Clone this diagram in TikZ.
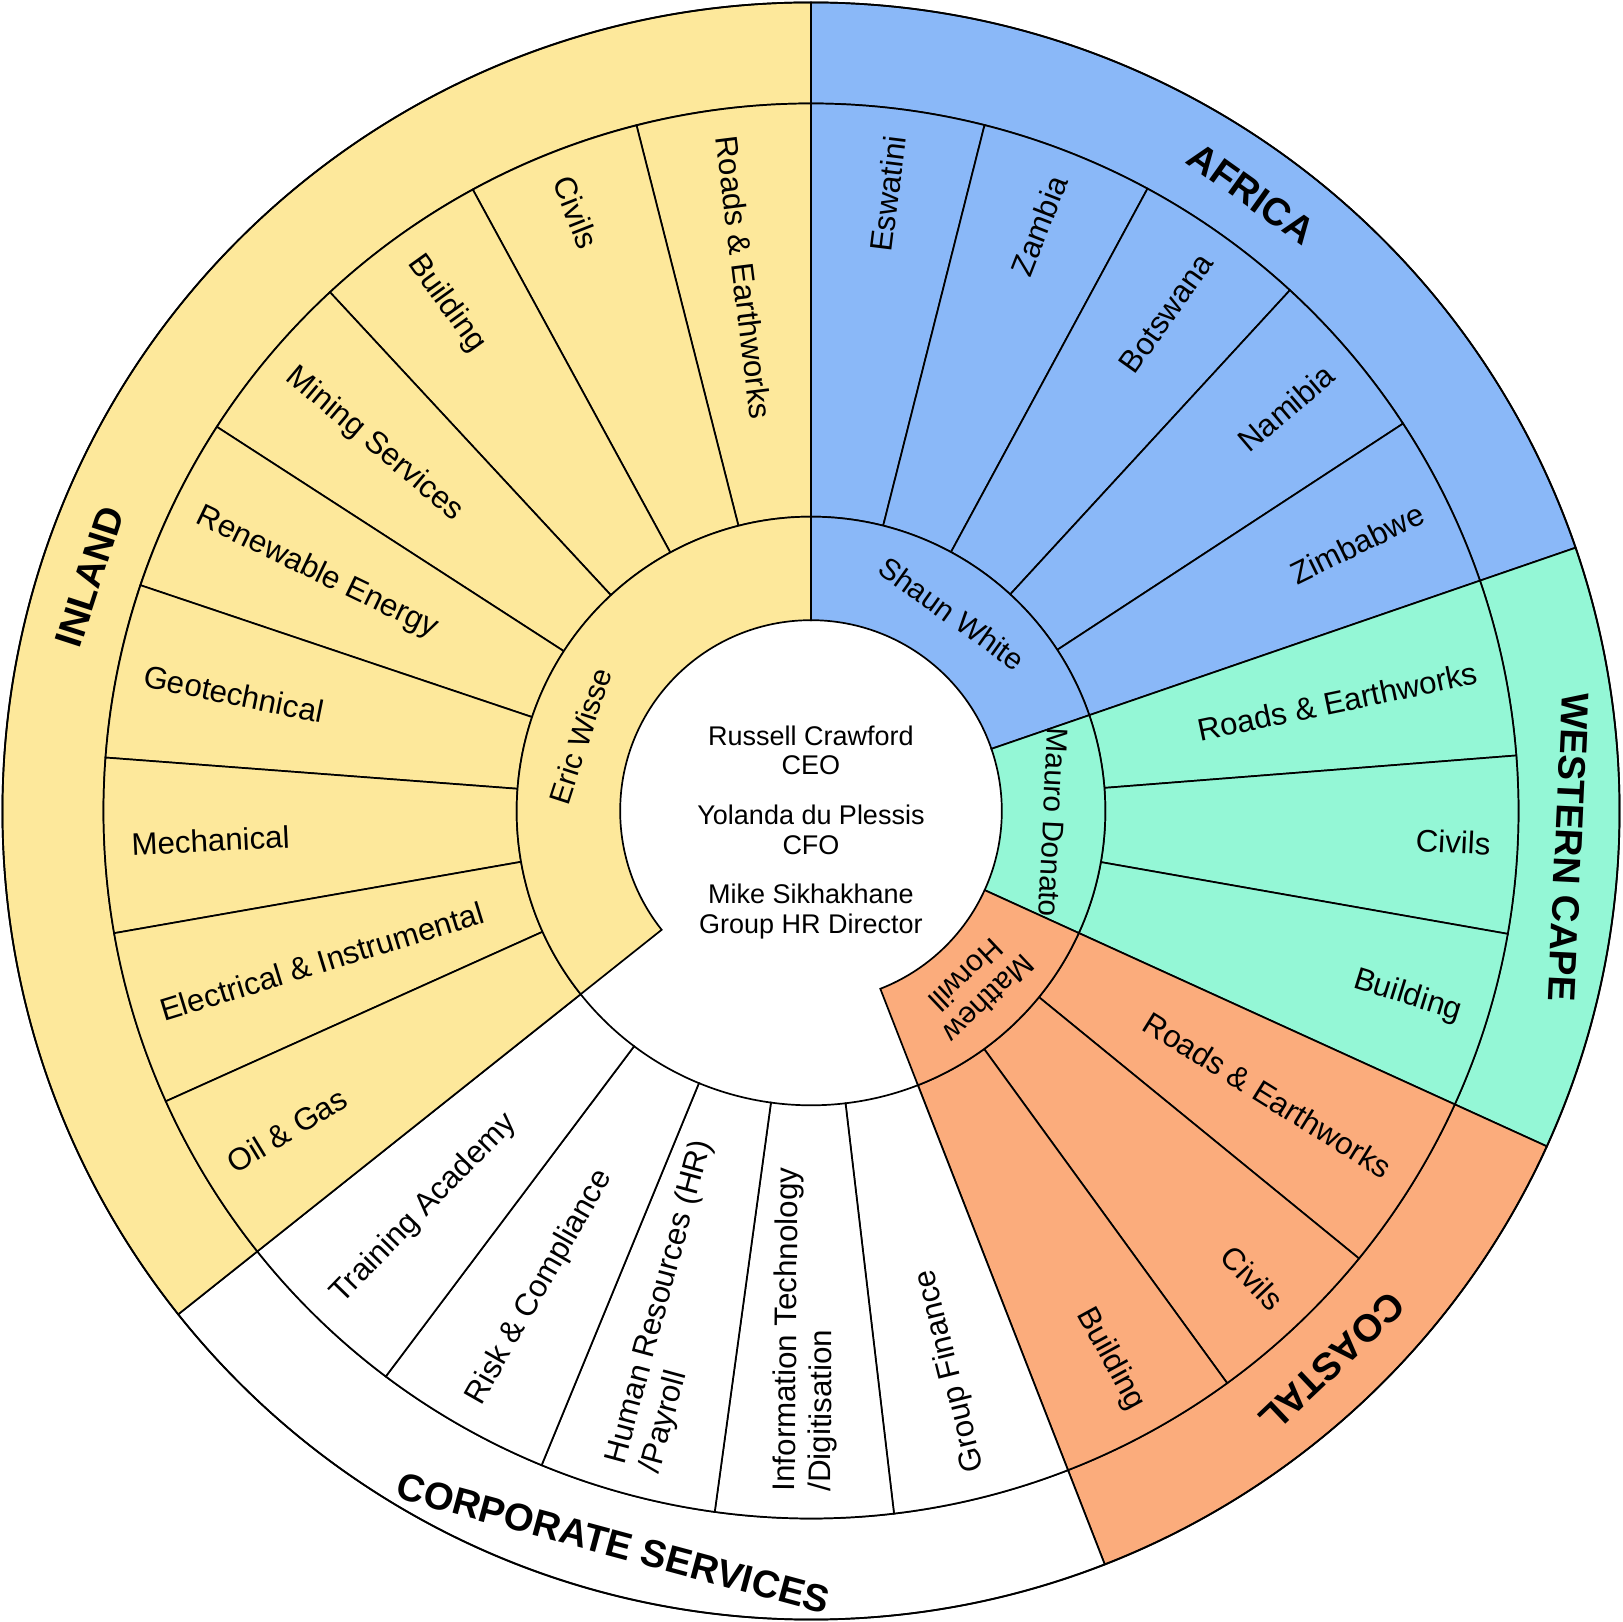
\documentclass[tikz,border=0pt]{standalone}
\usepackage{fontspec}
\setmainfont{Liberation Sans}
\usepackage{tikz}
\usetikzlibrary{positioning}

\definecolor{inlandcol}{RGB}{253,232,155}
\definecolor{africacol}{RGB}{138,184,248}
\definecolor{capecol}{RGB}{148,247,214}
\definecolor{coastcol}{RGB}{251,172,124}

\def\rCore{2.36}
\def\rMgr{3.64}
\def\rSub{8.75}
\def\rOut{10}

\tikzset{
  part/.style={draw=black, line width=0.6pt},
  sublabel/.style={font=\fontsize{11}{12.5}\selectfont, align=left, inner sep=0pt},
  mgrlabel/.style={font=\fontsize{10.5}{11.5}\selectfont, align=center, inner sep=0pt},
  regionlabel/.style={font=\fontsize{13.5}{15}\selectfont\bfseries, inner sep=0pt},
  toplabel/.style={font=\fontsize{9.5}{10.5}\selectfont, align=center}
}

% #1 start angle, #2 step, #3 colour, #4 rotation offset, #5 anchor, #6 name, #7 labels
\newcommand\subring[7]{%
  \foreach \lbl [count=\i] in {#7} {
    \pgfmathsetmacro\aa{#1+(\i-1)*(#2)}
    \pgfmathsetmacro\bb{#1+\i*(#2)}
    \pgfmathsetmacro\mm{#1+(\i-0.5)*(#2)}
    \pgfmathsetmacro\rr{\mm+#4}
    \filldraw[part, fill=#3] (\aa:\rMgr) arc[start angle=\aa, end angle=\bb, radius=\rMgr]
      -- (\bb:\rSub) arc[start angle=\bb, end angle=\aa, radius=\rSub] -- cycle;
    \node[sublabel, rotate=\rr, anchor=#5] (#6-\i) at (\mm:8.42) {\lbl};
  }%
}

% #1 from, #2 to, #3 inner, #4 outer, #5 colour
\newcommand\band[5]{%
  \filldraw[part, fill=#5] (#1:#3) arc[start angle=#1, end angle=#2, radius=#3]
    -- (#2:#4) arc[start angle=#2, end angle=#1, radius=#4] -- cycle;
}

\begin{document}
\begin{tikzpicture}
\useasboundingbox (-10.03,-10.03) rectangle (10.03,10.03);

% outer ring
\band{19}{90}{\rSub}{\rOut}{africacol}
\band{-24.5}{19}{\rSub}{\rOut}{capecol}
\band{-68.7}{-24.5}{\rSub}{\rOut}{coastcol}
\band{-141.5}{-68.7}{\rSub}{\rOut}{white}
\band{90}{218.5}{\rSub}{\rOut}{inlandcol}

% divisions
\subring{90}{-14.2}{africacol}{0}{east}{africa}{Eswatini,Zambia,Botswana,Namibia,Zimbabwe}
\subring{19}{-14.5}{capecol}{0}{east}{cape}{Roads \& Earthworks,Civils,Building}
\subring{-24.5}{-14.733}{coastcol}{0}{east}{coast}{Roads \& Earthworks,Civils,Building}
\subring{-68.7}{-14.56}{white}{180}{west}{corp}{Group Finance,{Information Technology\\/Digitisation},{Human Resources (HR)\\/Payroll},Risk \& Compliance,Training Academy}
\subring{90}{14.278}{inlandcol}{180}{west}{inland}{Roads \& Earthworks,Civils,Building,Mining Services,Renewable Energy,Geotechnical,Mechanical,Electrical \& Instrumental,Oil \& Gas}

% managers
\band{19}{90}{\rCore}{\rMgr}{africacol}
\band{-24.5}{19}{\rCore}{\rMgr}{capecol}
\band{-68.7}{-24.5}{\rCore}{\rMgr}{coastcol}
\band{90}{218.5}{\rCore}{\rMgr}{inlandcol}

\node[mgrlabel, rotate=-35.5] (shaun) at (54.5:3) {Shaun White};
\node[mgrlabel, rotate=-92.75] (mauro) at (-2.75:3) {Mauro Donato};
\node[mgrlabel, rotate=-136.6] (matthew) at (-46.6:3) {Matthew\\Horwill};
\node[mgrlabel, rotate=72] (eric) at (162:3) {Eric Wisse};

% regions
\node[regionlabel, rotate=-35.5] (africa) at (54.5:9.38) {AFRICA};
\node[regionlabel, rotate=-92.75] (cape) at (-2.75:9.38) {WESTERN CAPE};
\node[regionlabel, rotate=-136.6] (coastal) at (-46.6:9.38) {COASTAL};
\node[regionlabel, rotate=-15.1] (corporate) at (-105.1:9.38) {CORPORATE SERVICES};
\node[regionlabel, rotate=72] (inland) at (162:9.38) {INLAND};

% top
\node[toplabel] (ceo) at (0,0.75) {Russell Crawford\\CEO};
\node[toplabel, below=0.12 of ceo] (cfo) {Yolanda du Plessis\\CFO};
\node[toplabel, below=0.12 of cfo] (hr) {Mike Sikhakhane\\Group HR Director};

\draw[part] (0,0) circle (\rOut);
\end{tikzpicture}
\end{document}
